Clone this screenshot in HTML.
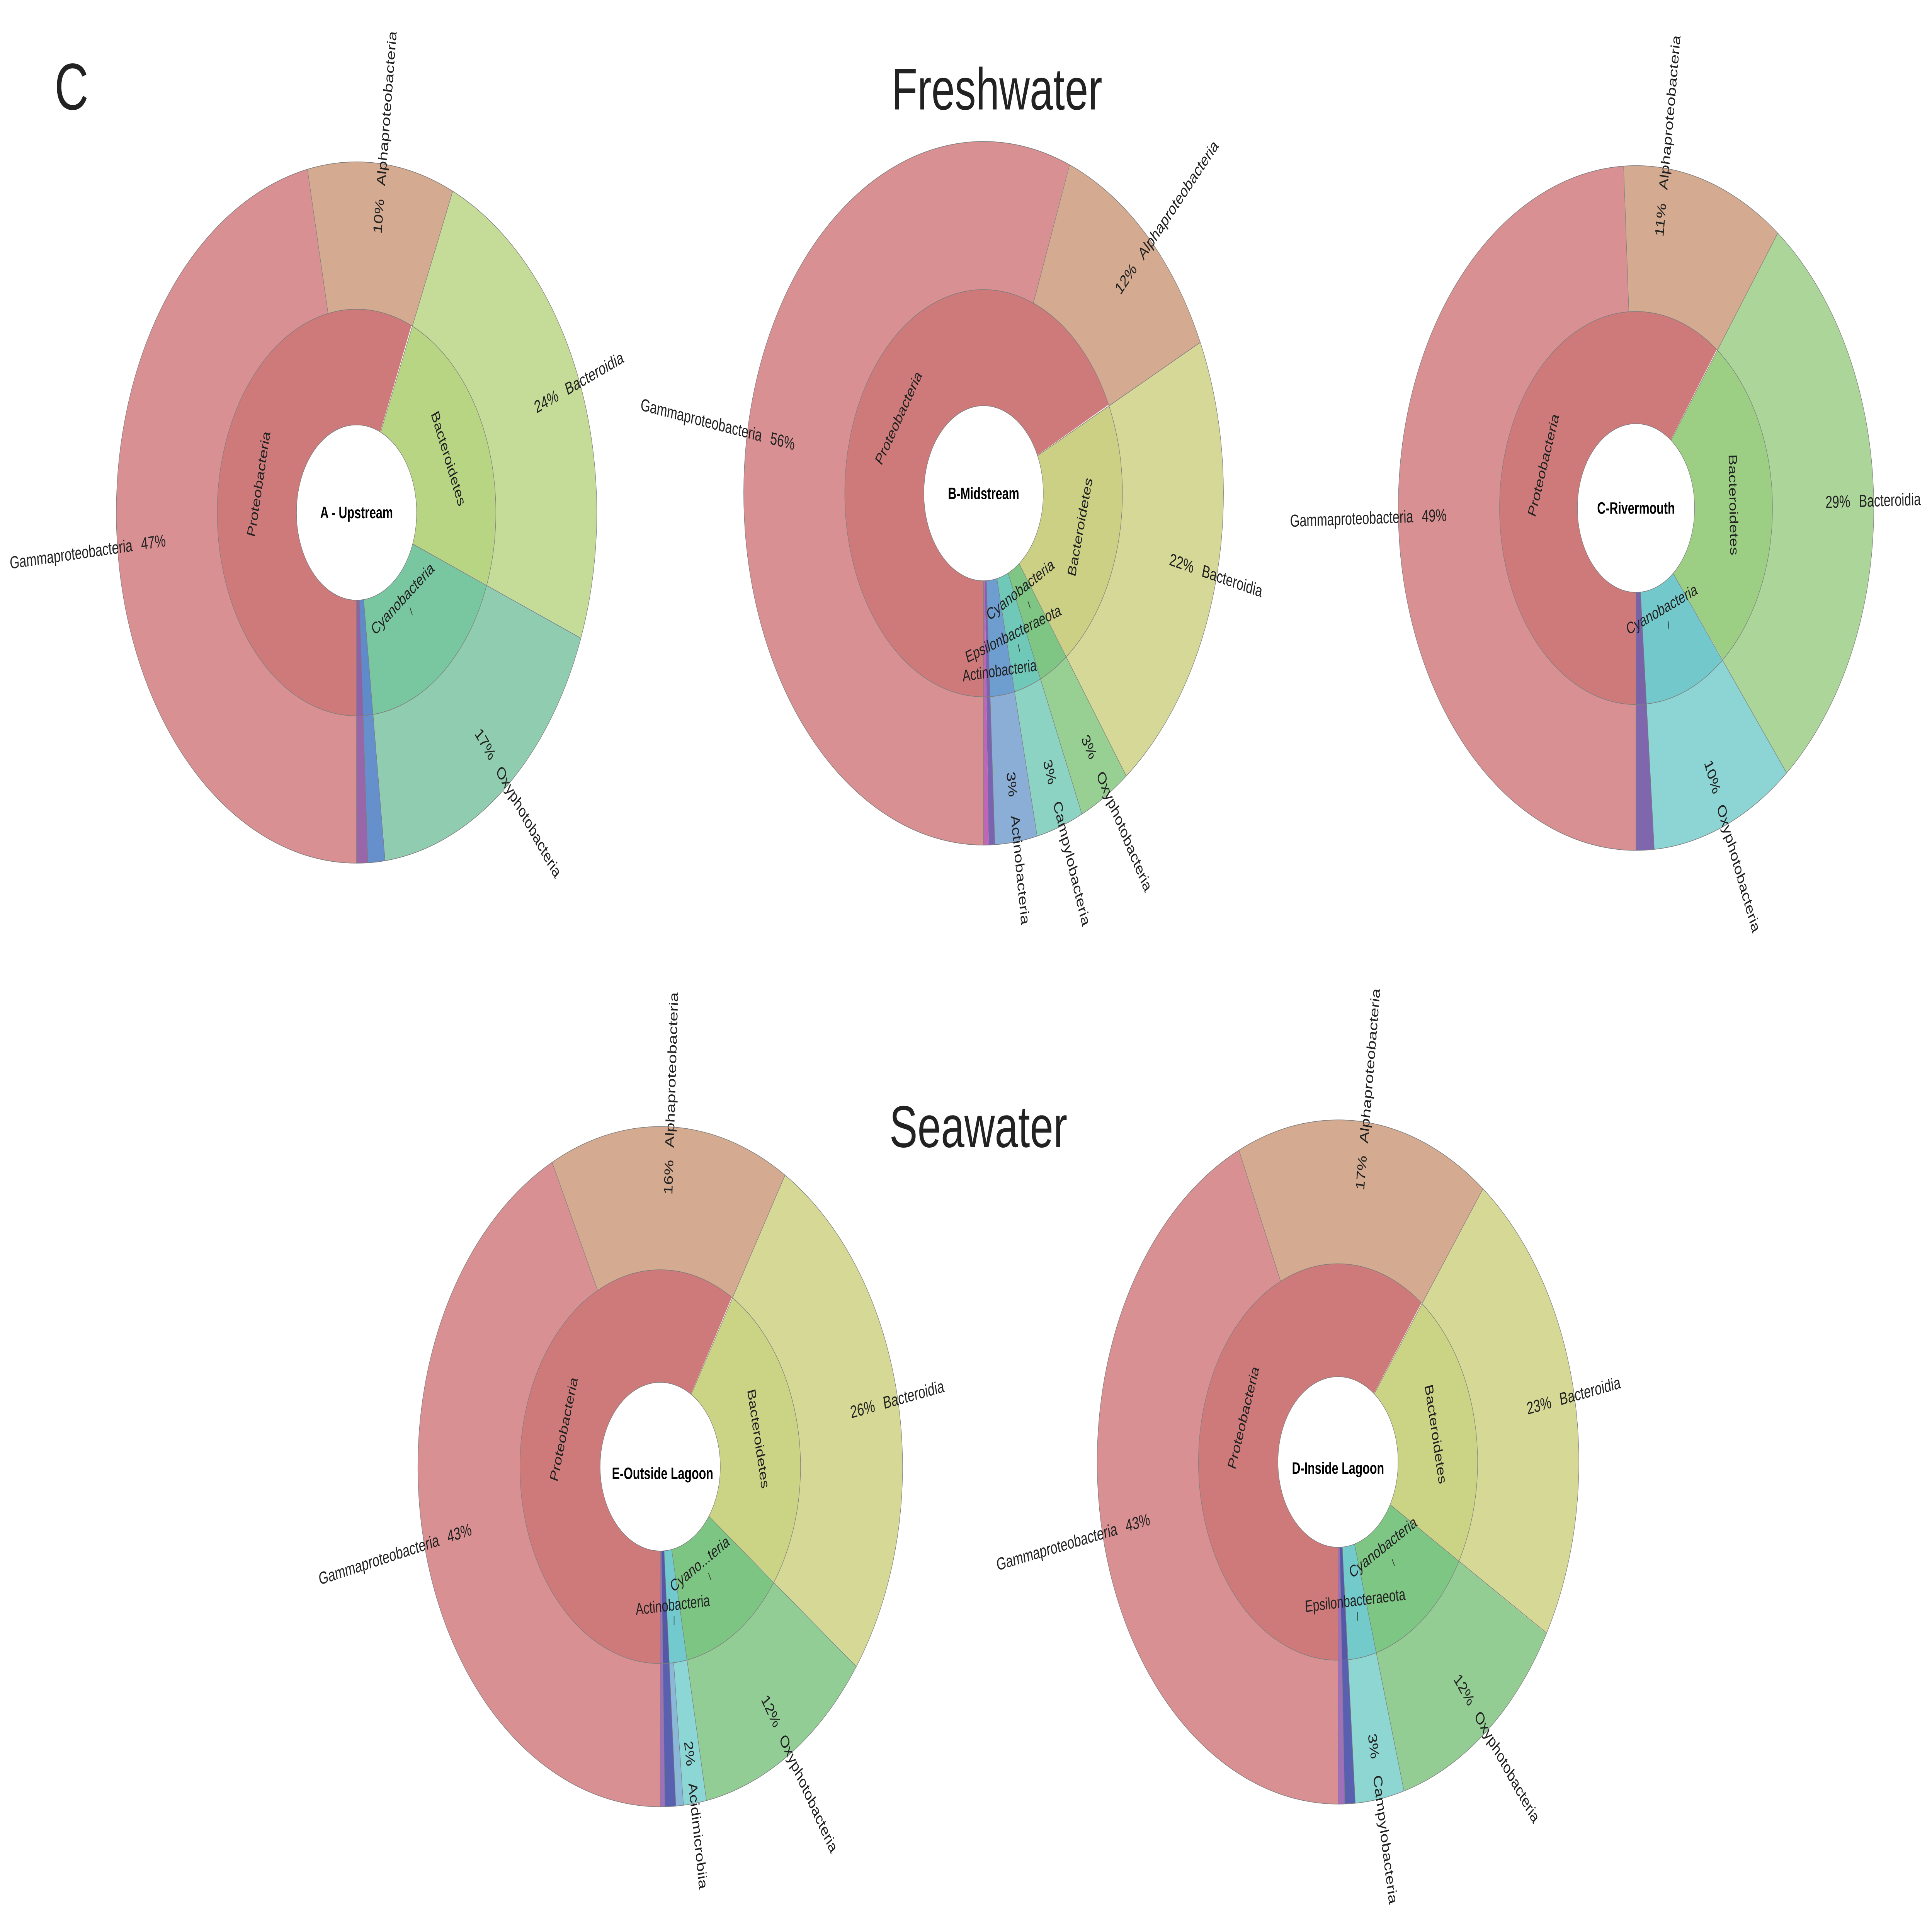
<!DOCTYPE html>
<html><head><meta charset="utf-8"><style>
html,body{margin:0;padding:0;background:#fff;width:100%;height:100%;overflow:hidden;}
svg{display:block;width:100vw;height:100vh;}
text{font-family:"Liberation Sans",Arial,sans-serif;fill:#222;}
.o{font-size:10px;}
.i{font-size:9.5px;}
.c{font-size:9.5px;font-weight:bold;fill:#000;}
</style></head><body>
<svg viewBox="0 0 1560 1103" preserveAspectRatio="none" xmlns="http://www.w3.org/2000/svg">
<rect width="1560" height="1103" fill="#fff"/>
<text x="44" y="63" style="font-size:38px;fill:#222">C</text>
<text x="805" y="63" text-anchor="middle" style="font-size:34px;fill:#222">Freshwater</text>
<text x="790" y="660" text-anchor="middle" style="font-size:34px;fill:#222">Seawater</text>

<!-- ================= A ================= -->
<g transform="translate(287.9,294.9) scale(1,1.04)" fill="none">
<g stroke-width="81.5">
<circle r="153.25" pathLength="360" stroke="#d89092" stroke-dasharray="168.2 400" transform="rotate(90)"/>
<circle r="153.25" pathLength="360" stroke="#d4aa90" stroke-dasharray="35.5 400" transform="rotate(258.2)"/>
<circle r="153.25" pathLength="360" stroke="#c5dc98" stroke-dasharray="87.2 400" transform="rotate(-66.3)"/>
<circle r="153.25" pathLength="360" stroke="#90cdb0" stroke-dasharray="62.2 400" transform="rotate(20.9)"/>
<circle r="153.25" pathLength="360" stroke="#6690cc" stroke-dasharray="4.2 400" transform="rotate(83.1)"/>
<circle r="153.25" pathLength="360" stroke="#9966aa" stroke-dasharray="2.7 400" transform="rotate(87.3)"/>
</g>
<g stroke-width="64">
<circle r="80.5" pathLength="360" stroke="#cf7a7a" stroke-dasharray="203.5 400" transform="rotate(90)"/>
<circle r="80.5" pathLength="360" stroke="#b8d584" stroke-dasharray="87.5 400" transform="rotate(-66.5)"/>
<circle r="80.5" pathLength="360" stroke="#79c7a0" stroke-dasharray="62.2 400" transform="rotate(21)"/>
<circle r="80.5" pathLength="360" stroke="#5f8bcb" stroke-dasharray="4.1 400" transform="rotate(83.2)"/>
<circle r="80.5" pathLength="360" stroke="#9060a8" stroke-dasharray="2.7 400" transform="rotate(87.3)"/>
</g>
<g stroke="#7d7d7d" stroke-width="0.35">
<circle r="48.5"/><circle r="112.5"/><circle r="194"/>
<line x1="0" y1="-48.5" x2="0" y2="-194" transform="rotate(180)"/>
<line x1="0" y1="-48.5" x2="0" y2="-194" transform="rotate(23.6)"/>
<line x1="0" y1="-48.5" x2="0" y2="-194" transform="rotate(111)"/>
<line x1="0" y1="-48.5" x2="0" y2="-194" transform="rotate(173.2)"/>
<line x1="0" y1="-48.5" x2="0" y2="-194" transform="rotate(177.3)"/>
<line x1="0" y1="-112.5" x2="0" y2="-194" transform="rotate(348.2)"/>
</g>
<circle r="48.3" fill="#fff"/>
</g>
<text class="c" x="287.9" y="298.2" text-anchor="middle">A - Upstream</text>
<g transform="translate(287.9,294.9) rotate(354.1)"><text class="o" x="-165" y="3.5" text-anchor="middle">47%</text><text class="o" x="-182" y="3.5" text-anchor="end">Gammaproteobacteria</text></g>
<g transform="translate(287.9,294.9) rotate(-84.05)"><text class="o" x="171.5" y="3.5" text-anchor="middle">10%</text><text class="o" x="189" y="3.5">Alphaproteobacteria</text></g>
<g transform="translate(287.9,294.9) rotate(-22.7)"><text class="o" x="166" y="3.5" text-anchor="middle">24%</text><text class="o" x="183" y="3.5">Bacteroidia</text></g>
<g transform="translate(287.9,294.9) rotate(52)"><text class="o" x="169" y="3.5" text-anchor="middle">17%</text><text class="o" x="186.5" y="3.5">Oxyphotobacteria</text></g>
<g transform="translate(287.9,294.9) rotate(281.75)"><text class="i" x="0" y="-77.5" text-anchor="middle">Proteobacteria</text></g>
<g transform="translate(287.9,294.9) rotate(67.25)"><text class="i" x="0" y="-77.2" text-anchor="middle">Bacteroidetes</text></g>
<text class="i" transform="translate(327,347) rotate(-38)" text-anchor="middle">Cyanobacteria</text>
<line x1="331" y1="349.5" x2="333" y2="354" stroke="#333" stroke-width="0.5"/>

<!-- ================= B ================= -->
<g transform="translate(794.2,283.8) scale(1,1.045)" fill="none">
<g stroke-width="81.6">
<circle r="152.9" pathLength="360" stroke="#d89092" stroke-dasharray="201 400" transform="rotate(90)"/>
<circle r="152.9" pathLength="360" stroke="#d4aa90" stroke-dasharray="43.7 400" transform="rotate(-69)"/>
<circle r="152.9" pathLength="360" stroke="#d5d896" stroke-dasharray="78.8 400" transform="rotate(-25.3)"/>
<circle r="152.9" pathLength="360" stroke="#98d094" stroke-dasharray="12.3 400" transform="rotate(53.5)"/>
<circle r="152.9" pathLength="360" stroke="#8dd3c4" stroke-dasharray="11.3 400" transform="rotate(65.8)"/>
<circle r="152.9" pathLength="360" stroke="#8aaed5" stroke-dasharray="10.2 400" transform="rotate(77.1)"/>
<circle r="152.9" pathLength="360" stroke="#7a64b0" stroke-dasharray="1.5 400" transform="rotate(87.3)"/>
<circle r="152.9" pathLength="360" stroke="#c066b4" stroke-dasharray="1.2 400" transform="rotate(88.8)"/>
</g>
<g stroke-width="63.9">
<circle r="80.15" pathLength="360" stroke="#cf7a7a" stroke-dasharray="244.6 400" transform="rotate(90)"/>
<circle r="80.15" pathLength="360" stroke="#cbd085" stroke-dasharray="78.9 400" transform="rotate(-25.4)"/>
<circle r="80.15" pathLength="360" stroke="#7fc684" stroke-dasharray="12.3 400" transform="rotate(53.5)"/>
<circle r="80.15" pathLength="360" stroke="#70c8b8" stroke-dasharray="11.3 400" transform="rotate(65.8)"/>
<circle r="80.15" pathLength="360" stroke="#6e9ed0" stroke-dasharray="10.2 400" transform="rotate(77.1)"/>
<circle r="80.15" pathLength="360" stroke="#7a64b0" stroke-dasharray="1.5 400" transform="rotate(87.3)"/>
<circle r="80.15" pathLength="360" stroke="#c066b4" stroke-dasharray="1.2 400" transform="rotate(88.8)"/>
</g>
<g stroke="#7d7d7d" stroke-width="0.35">
<circle r="48.2"/><circle r="112.1"/><circle r="193.7"/>
<line x1="0" y1="-48.2" x2="0" y2="-193.7" transform="rotate(180)"/>
<line x1="0" y1="-48.2" x2="0" y2="-193.7" transform="rotate(64.6)"/>
<line x1="0" y1="-48.2" x2="0" y2="-193.7" transform="rotate(143.5)"/>
<line x1="0" y1="-48.2" x2="0" y2="-193.7" transform="rotate(155.8)"/>
<line x1="0" y1="-48.2" x2="0" y2="-193.7" transform="rotate(167.1)"/>
<line x1="0" y1="-48.2" x2="0" y2="-193.7" transform="rotate(177.3)"/>
<line x1="0" y1="-112.1" x2="0" y2="-193.7" transform="rotate(21)"/>
</g>
<circle r="48" fill="#fff"/>
</g>
<text class="c" x="794.2" y="287.1" text-anchor="middle">B-Midstream</text>
<g transform="translate(794.2,283.8) rotate(370.5)"><text class="o" x="-165" y="3.5" text-anchor="middle">56%</text><text class="o" x="-182" y="3.5" text-anchor="end">Gammaproteobacteria</text></g>
<g transform="translate(794.2,283.8) rotate(-47.1)"><text class="o" x="168.6" y="3.5" text-anchor="middle">12%</text><text class="o" x="186" y="3.5">Alphaproteobacteria</text></g>
<g transform="translate(794.2,283.8) rotate(14.1)"><text class="o" x="165" y="3.5" text-anchor="middle">22%</text><text class="o" x="182" y="3.5">Bacteroidia</text></g>
<g transform="translate(794.2,283.8) rotate(59.7)"><text class="o" x="169" y="3.5" text-anchor="middle">3%</text><text class="o" x="186" y="3.5">Oxyphotobacteria</text></g>
<g transform="translate(794.2,283.8) rotate(71.5)"><text class="o" x="169" y="3.5" text-anchor="middle">3%</text><text class="o" x="187" y="3.5">Campylobacteria</text></g>
<g transform="translate(794.2,283.8) rotate(82.2)"><text class="o" x="169" y="3.5" text-anchor="middle">3%</text><text class="o" x="187" y="3.5">Actinobacteria</text></g>
<g transform="translate(794.2,283.8) rotate(302.3)"><text class="i" x="0" y="-78" text-anchor="middle">Proteobacteria</text></g>
<g transform="translate(794.2,283.8) rotate(-76)"><text class="i" x="0" y="83.5" text-anchor="middle">Bacteroidetes</text></g>
<text class="i" transform="translate(825.4,342) rotate(-30)" text-anchor="middle">Cyanobacteria</text>
<line x1="830" y1="346" x2="832" y2="350" stroke="#333" stroke-width="0.5"/>
<text class="i" transform="translate(819.2,367.6) rotate(-20)" text-anchor="middle">Epsilonbacteraeota</text>
<line x1="822" y1="370.5" x2="823.5" y2="375" stroke="#333" stroke-width="0.5"/>
<text class="i" transform="translate(807.4,389) rotate(-6)" text-anchor="middle">Actinobacteria</text>

<!-- ================= C ================= -->
<g transform="translate(1321,292.3) scale(1,1.026)" fill="none">
<g stroke-width="81.8">
<circle r="151.1" pathLength="360" stroke="#d89092" stroke-dasharray="177 400" transform="rotate(90)"/>
<circle r="151.1" pathLength="360" stroke="#d4aa90" stroke-dasharray="39.6 400" transform="rotate(267)"/>
<circle r="151.1" pathLength="360" stroke="#acd59a" stroke-dasharray="104.1 400" transform="rotate(-53.4)"/>
<circle r="151.1" pathLength="360" stroke="#8dd4d4" stroke-dasharray="34.9 400" transform="rotate(50.7)"/>
<circle r="151.1" pathLength="360" stroke="#7f67ad" stroke-dasharray="4.4 400" transform="rotate(85.6)"/>
</g>
<g stroke-width="62.9">
<circle r="78.75" pathLength="360" stroke="#cf7a7a" stroke-dasharray="216.6 400" transform="rotate(90)"/>
<circle r="78.75" pathLength="360" stroke="#9ccf84" stroke-dasharray="104.1 400" transform="rotate(-53.4)"/>
<circle r="78.75" pathLength="360" stroke="#72c8cb" stroke-dasharray="34.9 400" transform="rotate(50.7)"/>
<circle r="78.75" pathLength="360" stroke="#7a62a8" stroke-dasharray="4.4 400" transform="rotate(85.6)"/>
</g>
<g stroke="#7d7d7d" stroke-width="0.35">
<circle r="47.3"/><circle r="110.2"/><circle r="192"/>
<line x1="0" y1="-47.3" x2="0" y2="-192" transform="rotate(180)"/>
<line x1="0" y1="-47.3" x2="0" y2="-192" transform="rotate(36.6)"/>
<line x1="0" y1="-47.3" x2="0" y2="-192" transform="rotate(140.7)"/>
<line x1="0" y1="-47.3" x2="0" y2="-192" transform="rotate(175.6)"/>
<line x1="0" y1="-110.2" x2="0" y2="-192" transform="rotate(357)"/>
</g>
<circle r="47.1" fill="#fff"/>
</g>
<text class="c" x="1321" y="295.6" text-anchor="middle">C-Rivermouth</text>
<g transform="translate(1321,292.3) rotate(358.5)"><text class="o" x="-163" y="3.5" text-anchor="middle">49%</text><text class="o" x="-180" y="3.5" text-anchor="end">Gammaproteobacteria</text></g>
<g transform="translate(1321,292.3) rotate(-83.2)"><text class="o" x="167" y="3.5" text-anchor="middle">11%</text><text class="o" x="184.5" y="3.5">Alphaproteobacteria</text></g>
<g transform="translate(1321,292.3) rotate(-1.3)"><text class="o" x="163" y="3.5" text-anchor="middle">29%</text><text class="o" x="180" y="3.5">Bacteroidia</text></g>
<g transform="translate(1321,292.3) rotate(68.2)"><text class="o" x="166.5" y="3.5" text-anchor="middle">10%</text><text class="o" x="184" y="3.5">Oxyphotobacteria</text></g>
<g transform="translate(1321,292.3) rotate(288.3)"><text class="i" x="0" y="-75.5" text-anchor="middle">Proteobacteria</text></g>
<g transform="translate(1321,292.3) rotate(88.65)"><text class="i" x="0" y="-75.5" text-anchor="middle">Bacteroidetes</text></g>
<text class="i" transform="translate(1343,353.5) rotate(-23)" text-anchor="middle">Cyanobacteria</text>
<line x1="1347" y1="357.5" x2="1347.5" y2="362" stroke="#333" stroke-width="0.5"/>

<!-- ================= E ================= -->
<g transform="translate(533.1,843.9)" fill="none">
<g stroke-width="82.4">
<circle r="154.5" pathLength="360" stroke="#d89092" stroke-dasharray="153.5 400" transform="rotate(90)"/>
<circle r="154.5" pathLength="360" stroke="#d4aa90" stroke-dasharray="57.6 400" transform="rotate(243.5)"/>
<circle r="154.5" pathLength="360" stroke="#d5d995" stroke-dasharray="94.8 400" transform="rotate(-58.9)"/>
<circle r="154.5" pathLength="360" stroke="#92cd96" stroke-dasharray="43.1 400" transform="rotate(35.9)"/>
<circle r="154.5" pathLength="360" stroke="#8dd6d6" stroke-dasharray="5.5 400" transform="rotate(79)"/>
<circle r="154.5" pathLength="360" stroke="#8ab8d8" stroke-dasharray="1.8 400" transform="rotate(84.5)"/>
<circle r="154.5" pathLength="360" stroke="#5a60b0" stroke-dasharray="2.6 400" transform="rotate(86.3)"/>
<circle r="154.5" pathLength="360" stroke="#a070b8" stroke-dasharray="1.1 400" transform="rotate(88.9)"/>
</g>
<g stroke-width="64.8">
<circle r="80.9" pathLength="360" stroke="#cf7a7a" stroke-dasharray="211 400" transform="rotate(90)"/>
<circle r="80.9" pathLength="360" stroke="#cbd385" stroke-dasharray="95 400" transform="rotate(-59)"/>
<circle r="80.9" pathLength="360" stroke="#7dc583" stroke-dasharray="43 400" transform="rotate(36)"/>
<circle r="80.9" pathLength="360" stroke="#72cace" stroke-dasharray="7.3 400" transform="rotate(79)"/>
<circle r="80.9" pathLength="360" stroke="#5558a8" stroke-dasharray="2.6 400" transform="rotate(86.3)"/>
<circle r="80.9" pathLength="360" stroke="#a070b8" stroke-dasharray="1.1 400" transform="rotate(88.9)"/>
</g>
<g stroke="#7d7d7d" stroke-width="0.35">
<circle r="48.5"/><circle r="113.3"/><circle r="195.7"/>
<line x1="0" y1="-48.5" x2="0" y2="-195.7" transform="rotate(180)"/>
<line x1="0" y1="-48.5" x2="0" y2="-195.7" transform="rotate(31)"/>
<line x1="0" y1="-48.5" x2="0" y2="-195.7" transform="rotate(126)"/>
<line x1="0" y1="-48.5" x2="0" y2="-195.7" transform="rotate(169)"/>
<line x1="0" y1="-48.5" x2="0" y2="-195.7" transform="rotate(176.3)"/>
<line x1="0" y1="-48.5" x2="0" y2="-195.7" transform="rotate(178.9)"/>
<line x1="0" y1="-113.3" x2="0" y2="-195.7" transform="rotate(333.5)"/>
<line x1="0" y1="-113.3" x2="0" y2="-195.7" transform="rotate(174.5)"/>
</g>
<circle r="48.3" fill="#fff"/>
</g>
<text class="c" x="535" y="851" text-anchor="middle">E-Outside Lagoon</text>
<g transform="translate(533.1,843.9) rotate(346.8)"><text class="o" x="-166.7" y="3.5" text-anchor="middle">43%</text><text class="o" x="-183.7" y="3.5" text-anchor="end">Gammaproteobacteria</text></g>
<g transform="translate(533.1,843.9) rotate(-87.7)"><text class="o" x="166.7" y="3.5" text-anchor="middle">16%</text><text class="o" x="183.7" y="3.5">Alphaproteobacteria</text></g>
<g transform="translate(533.1,843.9) rotate(-11.5)"><text class="o" x="166.7" y="3.5" text-anchor="middle">26%</text><text class="o" x="183.7" y="3.5">Bacteroidia</text></g>
<g transform="translate(533.1,843.9) rotate(57.5)"><text class="o" x="166.7" y="3.5" text-anchor="middle">12%</text><text class="o" x="183.7" y="3.5">Oxyphotobacteria</text></g>
<g transform="translate(533.1,843.9) rotate(81.8)"><text class="o" x="166.7" y="3.5" text-anchor="middle">2%</text><text class="o" x="183.7" y="3.5">Acidimicrobiia</text></g>
<g transform="translate(533.1,843.9) rotate(285.5)"><text class="i" x="0" y="-77.6" text-anchor="middle">Proteobacteria</text></g>
<g transform="translate(533.1,843.9) rotate(78.5)"><text class="i" x="0" y="-77.6" text-anchor="middle">Bacteroidetes</text></g>
<text class="i" transform="translate(566.6,902.5) rotate(-31)" text-anchor="middle">Cyano...teria</text>
<line x1="572" y1="905" x2="574" y2="909" stroke="#333" stroke-width="0.5"/>
<text class="i" transform="translate(543.5,926.6) rotate(-5)" text-anchor="middle">Actinobacteria</text>
<line x1="544.3" y1="930" x2="544.3" y2="935" stroke="#333" stroke-width="0.5"/>

<!-- ================= D ================= -->
<g transform="translate(1080.4,841.2) scale(1,1.012)" fill="none">
<g stroke-width="81.8">
<circle r="153.6" pathLength="360" stroke="#d89092" stroke-dasharray="155.7 400" transform="rotate(90)"/>
<circle r="153.6" pathLength="360" stroke="#d4aa90" stroke-dasharray="61.4 400" transform="rotate(245.7)"/>
<circle r="153.6" pathLength="360" stroke="#d5d995" stroke-dasharray="83 400" transform="rotate(-52.9)"/>
<circle r="153.6" pathLength="360" stroke="#94cd94" stroke-dasharray="44 400" transform="rotate(30.1)"/>
<circle r="153.6" pathLength="360" stroke="#8dd6d2" stroke-dasharray="11.8 400" transform="rotate(74.1)"/>
<circle r="153.6" pathLength="360" stroke="#5a60b0" stroke-dasharray="2.5 400" transform="rotate(85.9)"/>
<circle r="153.6" pathLength="360" stroke="#a070b8" stroke-dasharray="1.6 400" transform="rotate(88.4)"/>
</g>
<g stroke-width="64.2">
<circle r="80.6" pathLength="360" stroke="#cf7a7a" stroke-dasharray="217 400" transform="rotate(90)"/>
<circle r="80.6" pathLength="360" stroke="#cbd385" stroke-dasharray="83 400" transform="rotate(-53)"/>
<circle r="80.6" pathLength="360" stroke="#7ec684" stroke-dasharray="44.1 400" transform="rotate(30)"/>
<circle r="80.6" pathLength="360" stroke="#72cacb" stroke-dasharray="11.9 400" transform="rotate(74.1)"/>
<circle r="80.6" pathLength="360" stroke="#5558a8" stroke-dasharray="2.4 400" transform="rotate(86)"/>
<circle r="80.6" pathLength="360" stroke="#a070b8" stroke-dasharray="1.6 400" transform="rotate(88.4)"/>
</g>
<g stroke="#7d7d7d" stroke-width="0.35">
<circle r="48.5"/><circle r="112.7"/><circle r="194.5"/>
<line x1="0" y1="-48.5" x2="0" y2="-194.5" transform="rotate(180)"/>
<line x1="0" y1="-48.5" x2="0" y2="-194.5" transform="rotate(37)"/>
<line x1="0" y1="-48.5" x2="0" y2="-194.5" transform="rotate(120)"/>
<line x1="0" y1="-48.5" x2="0" y2="-194.5" transform="rotate(164.1)"/>
<line x1="0" y1="-48.5" x2="0" y2="-194.5" transform="rotate(175.9)"/>
<line x1="0" y1="-48.5" x2="0" y2="-194.5" transform="rotate(178.4)"/>
<line x1="0" y1="-112.7" x2="0" y2="-194.5" transform="rotate(335.7)"/>
</g>
<circle r="48.3" fill="#fff"/>
</g>
<text class="c" x="1080.4" y="848" text-anchor="middle">D-Inside Lagoon</text>
<g transform="translate(1080.4,841.2) rotate(347.9)"><text class="o" x="-165.5" y="3.5" text-anchor="middle">43%</text><text class="o" x="-182.5" y="3.5" text-anchor="end">Gammaproteobacteria</text></g>
<g transform="translate(1080.4,841.2) rotate(-83.6)"><text class="o" x="167.5" y="3.5" text-anchor="middle">17%</text><text class="o" x="184.7" y="3.5">Alphaproteobacteria</text></g>
<g transform="translate(1080.4,841.2) rotate(-11.4)"><text class="o" x="165.5" y="3.5" text-anchor="middle">23%</text><text class="o" x="182.5" y="3.5">Bacteroidia</text></g>
<g transform="translate(1080.4,841.2) rotate(52.1)"><text class="o" x="166" y="3.5" text-anchor="middle">12%</text><text class="o" x="183" y="3.5">Oxyphotobacteria</text></g>
<g transform="translate(1080.4,841.2) rotate(80)"><text class="o" x="166" y="3.5" text-anchor="middle">3%</text><text class="o" x="183" y="3.5">Campylobacteria</text></g>
<g transform="translate(1080.4,841.2) rotate(288.5)"><text class="i" x="0" y="-77.3" text-anchor="middle">Proteobacteria</text></g>
<g transform="translate(1080.4,841.2) rotate(78.5)"><text class="i" x="0" y="-77.3" text-anchor="middle">Bacteroidetes</text></g>
<text class="i" transform="translate(1118.2,893) rotate(-30)" text-anchor="middle">Cyanobacteria</text>
<line x1="1124" y1="897" x2="1126" y2="901" stroke="#333" stroke-width="0.5"/>
<text class="i" transform="translate(1094.5,924) rotate(-5)" text-anchor="middle">Epsilonbacteraeota</text>
<line x1="1096" y1="927.5" x2="1096" y2="932.5" stroke="#333" stroke-width="0.5"/>
</svg>
</body></html>
